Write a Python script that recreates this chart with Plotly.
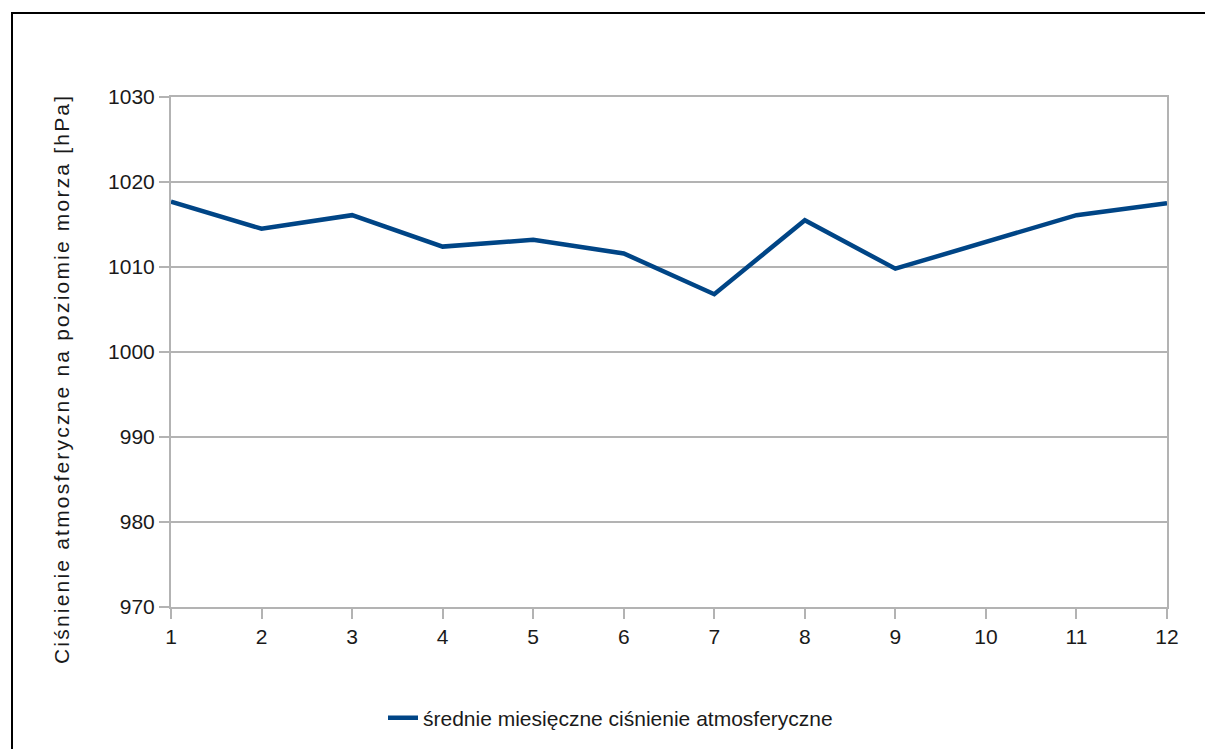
import plotly.graph_objects as go

months = [1, 2, 3, 4, 5, 6, 7, 8, 9, 10, 11, 12]
pressure = [1017.7, 1014.5, 1016.1, 1012.4, 1013.2, 1011.6, 1006.8, 1015.5, 1009.8, 1013.0, 1016.1, 1017.5]
series_name = "średnie miesięczne ciśnienie atmosferyczne"
y_title = "Ciśnienie atmosferyczne na poziomie morza [hPa]"
y_ticks = [970, 980, 990, 1000, 1010, 1020, 1030]

FONT = "Liberation Sans, Arial, sans-serif"
GRID = "#b3b3b3"
TXT = "#1a1a1a"
FS = 21

# page body has an 8px margin; compensate so target pixel positions match
OFF = 8
W, H = 1213, 749
L, R, T, B = 171 - OFF, 46 + OFF, 97 - OFF, 142 + OFF
pw, ph = W - L - R, H - T - B

def px(x):
    return (x - OFF - L) / pw

def py(y):
    return (H - B - (y - OFF)) / ph

fig = go.Figure()
fig.add_trace(go.Scatter(
    x=months, y=pressure, mode="lines", name=series_name,
    line=dict(color="#004586", width=4.5),
))

fig.update_layout(
    width=W, height=H,
    margin=dict(l=L, r=R, t=T, b=B),
    paper_bgcolor="white", plot_bgcolor="white",
    font=dict(family=FONT, size=FS, color=TXT),
    showlegend=True,
    legend=dict(orientation="h", x=px(383), y=py(718), xanchor="left", yanchor="middle",
                font=dict(size=FS, family=FONT, color=TXT), bgcolor="rgba(0,0,0,0)"),
    xaxis=dict(range=[1, 12], tickvals=months, ticktext=[str(m) for m in months],
               showgrid=False, showline=True, linecolor=GRID, linewidth=2, mirror=True,
               ticks="outside", ticklen=10, tickcolor=GRID, tickwidth=2, zeroline=False,
               tickfont=dict(size=FS, family=FONT, color=TXT)),
    yaxis=dict(range=[970, 1030], tickvals=y_ticks,
               showgrid=True, gridcolor=GRID, gridwidth=1.5,
               showline=True, linecolor=GRID, linewidth=2, mirror=True,
               ticks="outside", ticklen=10, tickcolor=GRID, tickwidth=2, zeroline=False,
               tickfont=dict(size=FS, family=FONT, color=TXT)),
)

fig.add_annotation(
    text='<span style="letter-spacing:2.2px">' + y_title + '</span>',
    textangle=-90, xref="paper", yref="paper",
    x=px(61), y=py(379), xanchor="center", yanchor="middle",
    showarrow=False, font=dict(size=FS, family=FONT, color=TXT),
)

fig.add_shape(type="rect", xref="paper", yref="paper",
              x0=px(12), y0=py(820), x1=px(1300), y1=py(13),
              line=dict(color="black", width=2), fillcolor="rgba(0,0,0,0)", layer="below")

fig.write_html("out.html")
